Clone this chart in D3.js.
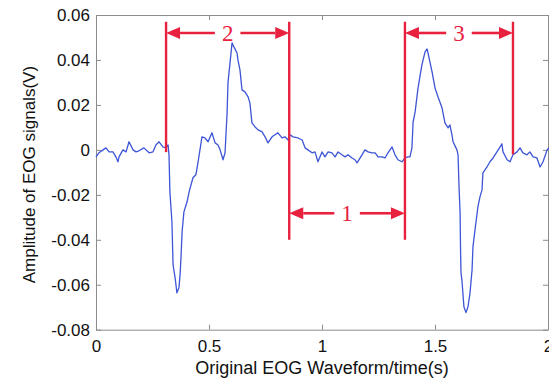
<!DOCTYPE html>
<html>
<head>
<meta charset="utf-8">
<script src="https://cdn.jsdelivr.net/npm/d3@7"></script>
<style>
	body { margin: 0; background: #fff; }
	svg { display: block; font-family: "Liberation Sans", Arial, sans-serif; }
</style>
</head>
<body>
<svg id="chart" width="549" height="378"></svg>
<script>
// EOG trace (time in s, amplitude in V)
const timeS = [
	0.000, 0.013, 0.031, 0.044, 0.058, 0.075, 0.088, 0.097, 0.102, 0.119,
	0.133, 0.146, 0.164, 0.177, 0.190, 0.212, 0.235, 0.252, 0.265, 0.279,
	0.296, 0.310, 0.319, 0.323, 0.327, 0.336, 0.341, 0.350, 0.358, 0.367,
	0.372, 0.376, 0.381, 0.389, 0.403, 0.412, 0.429, 0.442, 0.451, 0.469,
	0.482, 0.496, 0.513, 0.527, 0.540, 0.549, 0.562, 0.571, 0.580, 0.584,
	0.593, 0.602, 0.606, 0.624, 0.628, 0.637, 0.646, 0.659, 0.673, 0.681,
	0.690, 0.704, 0.717, 0.735, 0.748, 0.761, 0.779, 0.792, 0.805, 0.823,
	0.836, 0.850, 0.858, 0.872, 0.894, 0.912, 0.925, 0.938, 0.956, 0.969,
	0.982, 1.000, 1.013, 1.027, 1.044, 1.058, 1.071, 1.088, 1.102, 1.115,
	1.133, 1.146, 1.155, 1.177, 1.190, 1.204, 1.221, 1.235, 1.248, 1.265,
	1.279, 1.292, 1.310, 1.323, 1.336, 1.354, 1.367, 1.381, 1.389, 1.398,
	1.403, 1.412, 1.425, 1.442, 1.456, 1.465, 1.469, 1.487, 1.500, 1.513,
	1.531, 1.544, 1.558, 1.566, 1.575, 1.580, 1.597, 1.602, 1.606, 1.611,
	1.613, 1.615, 1.619, 1.628, 1.637, 1.646, 1.655, 1.664, 1.668, 1.677,
	1.690, 1.699, 1.708, 1.712, 1.730, 1.743, 1.757, 1.774, 1.788, 1.796,
	1.801, 1.819, 1.832, 1.845, 1.863, 1.876, 1.889, 1.907, 1.920, 1.934,
	1.951, 1.965, 1.978, 1.996, 2.004
];
const ampV = [
	-0.0031, -0.0013, 0.0000, 0.0009, -0.0009, -0.0009, -0.0031, -0.0053, -0.0031, 0.0000,
	-0.0009, 0.0036, 0.0000, -0.0009, -0.0004, 0.0009, -0.0013, -0.0009, 0.0022, 0.0036,
	0.0013, 0.0009, 0.0022, -0.0022, -0.0187, -0.0320, -0.0511, -0.0569, -0.0636, -0.0613,
	-0.0556, -0.0480, -0.0364, -0.0276, -0.0231, -0.0187, -0.0124, -0.0111, -0.0058, 0.0058,
	0.0053, 0.0036, 0.0076, 0.0031, 0.0022, 0.0000, -0.0044, -0.0013, 0.0164, 0.0298,
	0.0387, 0.0476, 0.0467, 0.0431, 0.0400, 0.0356, 0.0267, 0.0258, 0.0236, 0.0209,
	0.0120, 0.0102, 0.0089, 0.0080, 0.0058, 0.0031, 0.0058, 0.0067, 0.0076, 0.0053,
	0.0058, 0.0044, 0.0067, 0.0058, 0.0053, 0.0044, 0.0009, 0.0000, -0.0013, -0.0009,
	-0.0053, -0.0009, -0.0031, -0.0009, -0.0013, -0.0031, -0.0009, -0.0022, -0.0031, -0.0022,
	-0.0036, -0.0044, -0.0058, -0.0022, 0.0000, -0.0009, -0.0013, -0.0013, -0.0031, -0.0031,
	-0.0036, -0.0013, 0.0013, -0.0022, -0.0044, -0.0053, -0.0036, -0.0031, -0.0031, 0.0009,
	0.0124, 0.0169, 0.0276, 0.0378, 0.0436, 0.0449, 0.0431, 0.0347, 0.0276, 0.0236,
	0.0187, 0.0120, 0.0098, 0.0111, 0.0067, 0.0036, 0.0000, -0.0022, -0.0156, -0.0280,
	-0.0444, -0.0547, -0.0578, -0.0698, -0.0724, -0.0698, -0.0636, -0.0533, -0.0431, -0.0356,
	-0.0253, -0.0209, -0.0178, -0.0102, -0.0076, -0.0053, -0.0036, -0.0009, 0.0013, 0.0027,
	-0.0009, -0.0044, -0.0053, -0.0022, -0.0009, 0.0009, -0.0013, -0.0022, -0.0009, -0.0031,
	-0.0036, -0.0076, -0.0053, 0.0000, 0.0009
];

// tick labels
const xTicks = [0, 0.5, 1, 1.5, 2];
const xTickLabels = ["0", "0.5", "1", "1.5", "2"];
const yTicks = [-0.08, -0.06, -0.04, -0.02, 0, 0.02, 0.04, 0.06];
const yTickLabels = ["-0.08", "-0.06", "-0.04", "-0.02", "0", "0.02", "0.04", "0.06"];

// red interval markers
const markerTimes = [0.31, 0.855, 1.367, 1.845];
const markerTops = [0.057, 0.057, 0.057, 0.057];
const markerBottoms = [-0.001, -0.040, -0.040, -0.002];
const intervalLabels = ["2", "1", "3"];
const intervalFrom = [0.31, 0.855, 1.367];
const intervalTo = [0.855, 1.367, 1.845];
const intervalLevel = [0.052, -0.0282, 0.052];

const svg = d3.select("#chart");
const margin = { top: 15, right: 1, bottom: 48, left: 96 };
const height = 378 - margin.top - margin.bottom;

const g = svg.append("g").attr("transform", `translate(${margin.left}, ${margin.top})`);

const xScale = d3.scaleLinear().domain([0, 2]).range([0, 452]);
const yScale = d3.scaleLinear().domain([-0.08, 0.06]).range([height - 0.3, 0]);

const axisColor = "#8c8c8c";

// Axes (ticks inside, matlab style)
g.append("g")
	.attr("transform", `translate(0, ${yScale(-0.08)})`)
	.call(d3.axisBottom(xScale).tickValues(xTicks)
		.tickFormat((d, i) => xTickLabels[i])
		.tickSizeInner(-5).tickSizeOuter(0).tickPadding(10));
g.append("g")
	.call(d3.axisLeft(yScale).tickValues(yTicks)
		.tickFormat((d, i) => yTickLabels[i])
		.tickSizeInner(-5).tickSizeOuter(0).tickPadding(6));
g.append("g")
	.call(d3.axisTop(xScale).tickValues(xTicks).tickFormat("")
		.tickSizeInner(-5).tickSizeOuter(0));
g.append("g")
	.attr("transform", `translate(${xScale(2)}, 0)`)
	.call(d3.axisRight(yScale).tickValues(yTicks).tickFormat("")
		.tickSizeInner(-5).tickSizeOuter(0));

g.selectAll(".domain, .tick line").attr("stroke", axisColor);
g.selectAll(".tick text")
	.attr("fill", "#111")
	.style("font-size", "17px")
	.style("font-family", "'Liberation Sans', Arial, sans-serif");

// Axis titles
svg.append("text")
	.attr("x", margin.left + xScale(1))
	.attr("y", 374)
	.attr("text-anchor", "middle")
	.attr("fill", "#111")
	.style("font-size", "18px")
	.text("Original EOG Waveform/time(s)");

svg.append("text")
	.attr("transform", `translate(35, ${margin.top + yScale(-0.011)}) rotate(-90)`)
	.attr("text-anchor", "middle")
	.attr("fill", "#111")
	.style("font-size", "17px")
	.text("Amplitude of EOG signals(V)");

// Signal
const line = d3.line()
	.x((d, i) => xScale(timeS[i]))
	.y((d) => yScale(d));

g.append("path")
	.datum(ampV)
	.attr("d", line)
	.attr("fill", "none")
	.attr("stroke", "#3d55d6")
	.attr("stroke-width", 1.3)
	.attr("stroke-linejoin", "round");

// Red markers
const red = "#e8213f";
g.selectAll("line.marker")
	.data(markerTimes)
	.enter()
	.append("line")
	.attr("class", "marker")
	.attr("x1", (d) => xScale(d))
	.attr("x2", (d) => xScale(d))
	.attr("y1", (d, i) => yScale(markerTops[i]))
	.attr("y2", (d, i) => yScale(markerBottoms[i]))
	.attr("stroke", red)
	.attr("stroke-width", 2.4);

const head = 14; // arrowhead length
const halfH = 6;
intervalLabels.forEach((label, i) => {
	const x0 = xScale(intervalFrom[i]);
	const x1 = xScale(intervalTo[i]);
	const y = yScale(intervalLevel[i]);
	const mid = (x0 + x1) / 2;

	const txt = g.append("text")
		.attr("x", mid)
		.attr("y", y + 8)
		.attr("text-anchor", "middle")
		.attr("fill", red)
		.style("font-family", "'Liberation Serif', 'Times New Roman', serif")
		.style("font-size", "23px")
		.text(label);
	const gap = txt.node().getBBox().width / 2 + 7;

	g.append("line")
		.attr("x1", x0 + head).attr("x2", mid - gap)
		.attr("y1", y).attr("y2", y)
		.attr("stroke", red).attr("stroke-width", 2.6);
	g.append("line")
		.attr("x1", mid + gap).attr("x2", x1 - head)
		.attr("y1", y).attr("y2", y)
		.attr("stroke", red).attr("stroke-width", 2.6);

	g.append("path")
		.attr("d", `M${x0},${y}L${x0 + head},${y - halfH}L${x0 + head},${y + halfH}Z`)
		.attr("fill", red);
	g.append("path")
		.attr("d", `M${x1},${y}L${x1 - head},${y - halfH}L${x1 - head},${y + halfH}Z`)
		.attr("fill", red);
});
</script>
</body>
</html>
